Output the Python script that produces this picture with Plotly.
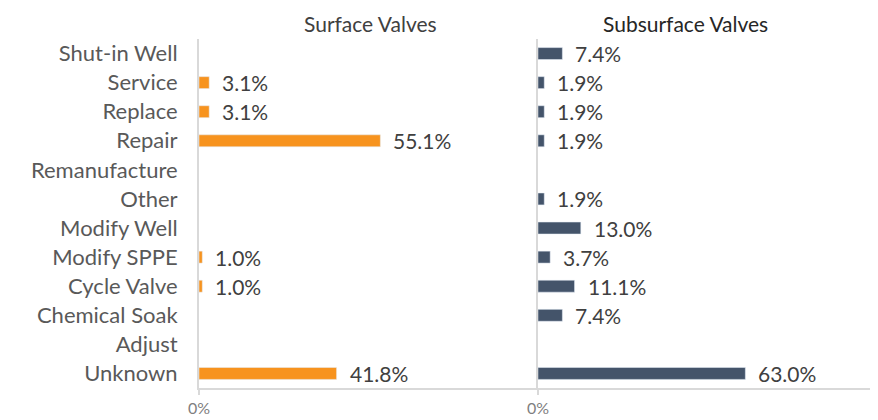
import plotly.graph_objects as go

categories = ["Shut-in Well", "Service", "Replace", "Repair", "Remanufacture", "Other",
              "Modify Well", "Modify SPPE", "Cycle Valve", "Chemical Soak", "Adjust", "Unknown"]
surface = [None, 3.1, 3.1, 55.1, None, None, None, 1.0, 1.0, None, None, 41.8]
subsurface = [7.4, 1.9, 1.9, 1.9, None, 1.9, 13.0, 3.7, 11.1, 7.4, None, 63.0]
panel_titles = ["Surface Valves", "Subsurface Valves"]
tick_labels = ["0%", ""]

ORANGE = "#F7931E"
NAVY = "#44546A"
GRID = "#D9D9D9"
FONT = "Lato, Open Sans, sans-serif"
XMAX = 103.0

OFF = 8  # page body margin
W, H = 878 - OFF, 420 - OFF
L, R, T, B = 199 - OFF, 1, 39 - OFF, 32  # plot area in pixels

fig = go.Figure()
fig.add_trace(go.Bar(y=categories, x=surface, orientation="h", marker_color=ORANGE,
                     width=0.41, xaxis="x", yaxis="y", hoverinfo="x+y"))
fig.add_trace(go.Bar(y=categories, x=subsurface, orientation="h", marker_color=NAVY,
                     width=0.41, xaxis="x2", yaxis="y2", hoverinfo="x+y"))

annotations = []
for xref, yref, vals in [("x", "y", surface), ("x2", "y2", subsurface)]:
    for c, v in zip(categories, vals):
        if v is None:
            continue
        annotations.append(dict(x=v, y=c, xref=xref, yref=yref, text=f"{v:.1f}%",
                                showarrow=False, xanchor="left", xshift=11,
                                font=dict(family=FONT, size=21, color="#404040")))

pw = W - L - R
ph = H - T - B
def px_x(x):
    return (x - OFF - L) / pw
def px_y(y):
    return (H - B - (y - OFF)) / ph

annotations.append(dict(x=px_x(370), y=px_y(23), xref="paper", yref="paper",
                        text=panel_titles[0], showarrow=False, xanchor="center", yanchor="middle",
                        font=dict(family=FONT, size=21, color="#404040")))
annotations.append(dict(x=px_x(685), y=px_y(23), xref="paper", yref="paper",
                        text=panel_titles[1], showarrow=False, xanchor="center", yanchor="middle",
                        font=dict(family=FONT, size=21, color="#262626")))

mid = (538 - OFF - L) / pw
xcommon = dict(range=[0, XMAX], tickvals=[0, XMAX], ticktext=tick_labels, showgrid=False,
               zeroline=False, showline=True, linecolor=GRID,
               linewidth=2, ticks="outside", ticklen=5, tickcolor=GRID, tickwidth=1.5,
               tickfont=dict(family=FONT, size=16, color="#7F7F7F"), fixedrange=True,
               automargin=False)
ycommon = dict(categoryorder="array", categoryarray=categories, autorange="reversed",
               domain=[0, 1], showgrid=False, zeroline=False, showline=True, linecolor=GRID,
               linewidth=2, ticks="", automargin=False, fixedrange=True)

fig.update_layout(
    width=W, height=H,
    margin=dict(l=L, r=R, t=T, b=B, autoexpand=False),
    paper_bgcolor="white", plot_bgcolor="white",
    showlegend=False,
    xaxis=dict(domain=[0, mid], anchor="y", **xcommon),
    xaxis2=dict(domain=[mid, 1], anchor="y2", **xcommon),
    yaxis=dict(anchor="x", showticklabels=True, ticklabelstandoff=15,
               tickfont=dict(family=FONT, size=22, color="#595959"), **ycommon),
    yaxis2=dict(anchor="x2", showticklabels=False, mirror=True, **ycommon),
    annotations=annotations,
)

fig.write_html("out.html")
